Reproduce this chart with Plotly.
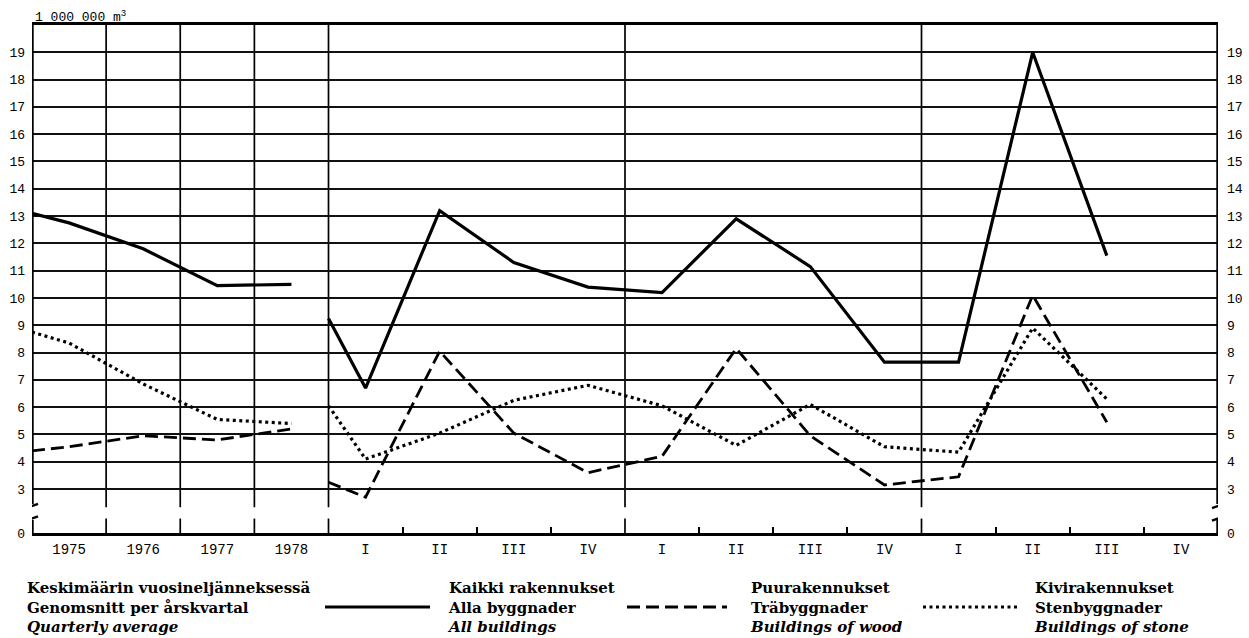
import plotly.graph_objects as go

# ---------------- data (1 000 000 m3) ----------------
years = ["1975", "1976", "1977", "1978"]
quarters = ["I", "II", "III", "IV"]
n_quarter_years = 3

# annual section: value where each line starts at the left edge, then yearly quarterly averages
annual_start_all, annual_start_wood, annual_start_stone = 13.1, 4.4, 8.75
annual_all = [12.75, 11.8, 10.45, 10.5]
annual_wood = [4.55, 4.95, 4.8, 5.2]
annual_stone = [8.35, 6.85, 5.55, 5.4]

# quarterly section: start value at section edge, then quarters I..IV, I..IV, I..III
quarter_start_all, quarter_start_wood, quarter_start_stone = 9.25, 3.25, 6.05
quarterly_all = [6.7, 13.2, 11.3, 10.4, 10.2, 12.9, 11.15, 7.65, 7.65, 19.0, 11.55]
quarterly_wood = [2.7, 8.05, 5.05, 3.6, 4.2, 8.15, 4.95, 3.15, 3.45, 10.1, 5.45]
quarterly_stone = [4.1, 5.05, 6.25, 6.8, 6.05, 4.6, 6.1, 4.55, 4.35, 8.9, 6.3]

y_ticks = list(range(3, 20))
y_top = 20
zero_pos = 1.39          # where "0" sits below the axis break
break_top, break_bottom = 2.33, 1.92

unit_label = "1 000 000 m<sup>3</sup>"
legend_head = ["Keskimäärin vuosineljänneksessä", "Genomsnitt per årskvartal", "Quarterly average"]
legend_all = ["Kaikki rakennukset", "Alla byggnader", "All buildings"]
legend_wood = ["Puurakennukset", "Träbyggnader", "Buildings of wood"]
legend_stone = ["Kivirakennukset", "Stenbyggnader", "Buildings of stone"]

# ---------------- layout geometry ----------------
W, H = 1249, 638
ML, MR, MT, MB = 32, 31, 25, 105
PW, PH = W - ML - MR, H - MT - MB


def px_x(px):
    return (px - ML) / PW


def px_y(py):
    return (H - MB - py) / PH


categories = years + quarters * n_quarter_years
n_cat = len(categories)
centers = [i + 0.5 for i in range(n_cat)]
n_years = len(years)

annual_x = [0] + centers[:n_years]
quarter_x = [n_years] + centers[n_years:n_years + len(quarterly_all)]

solid = dict(color="black", width=3.2)
dashed = dict(color="black", width=2.8, dash="13px,6px")
dotted = dict(color="black", width=3.2, dash="3px,3.5px")

fig = go.Figure()
for xs, ys, ln in [
    (annual_x, [annual_start_all] + annual_all, solid),
    (annual_x, [annual_start_wood] + annual_wood, dashed),
    (annual_x, [annual_start_stone] + annual_stone, dotted),
    (quarter_x, [quarter_start_all] + quarterly_all, solid),
    (quarter_x, [quarter_start_wood] + quarterly_wood, dashed),
    (quarter_x, [quarter_start_stone] + quarterly_stone, dotted),
]:
    fig.add_trace(go.Scatter(x=xs, y=ys, mode="lines", line=ln, showlegend=False,
                             hoverinfo="skip"))

# invisible trace to carry the right-hand axis
fig.add_trace(go.Scatter(x=[0.5], y=[y_ticks[0]], yaxis="y2", mode="markers",
                         marker=dict(opacity=0), showlegend=False, hoverinfo="skip"))

tick_font = dict(family="Liberation Mono", size=14, color="black")
ytick_font = dict(family="Liberation Mono", size=13, color="black")

shapes = []
# vertical dividers (annual columns and year sections), broken at the axis break
dividers = list(range(1, n_years + 1)) + [n_years + 4 * k for k in range(1, n_quarter_years)]
for d in dividers:
    for y0, y1 in [(y_top, break_top), (break_bottom, zero_pos)]:
        shapes.append(dict(type="line", xref="x", yref="y", x0=d, x1=d, y0=y0, y1=y1,
                           line=dict(color="black", width=1.7), layer="below"))
# left and right axis lines with break marks
for ax in [0, n_cat]:
    for y0, y1 in [(y_top, break_top + 0.12), (break_bottom - 0.05, zero_pos)]:
        shapes.append(dict(type="line", xref="x", yref="y", x0=ax, x1=ax, y0=y0, y1=y1,
                           line=dict(color="black", width=3.4)))
    for yc in [break_top + 0.05, break_bottom]:
        shapes.append(dict(type="line", xref="x", yref="y", xsizemode="pixel", xanchor=ax,
                           x0=-6, x1=6, y0=yc - 0.08, y1=yc + 0.08,
                           line=dict(color="black", width=2.4)))

# legend keys
legend_y = px_y(607)
for (x0p, x1p), ln in [((325, 430), solid), ((627, 727), dashed), ((923, 1018), dotted)]:
    shapes.append(dict(type="line", xref="paper", yref="paper", x0=px_x(x0p), x1=px_x(x1p),
                       y0=legend_y, y1=legend_y, line=ln))

annotations = [dict(text=unit_label, xref="paper", yref="paper", x=px_x(33), y=px_y(16),
                    xanchor="left", yanchor="middle", showarrow=False,
                    font=dict(family="Liberation Mono", size=13, color="black"))]
leg_font = dict(family="DejaVu Serif", size=15, color="black")
for col_x, lines in [(25, legend_head), (445, legend_all), (748, legend_wood), (1032, legend_stone)]:
    t = "<b>" + lines[0] + "</b><br><b>" + lines[1] + "</b><br><b><i>" + lines[2] + "</i></b>"
    annotations.append(dict(text=t, xref="paper", yref="paper", x=px_x(col_x), y=px_y(607),
                            xanchor="left", yanchor="middle", align="left", showarrow=False,
                            font=leg_font))

minor_ticks = [c for c in range(n_years + 1, n_cat) if c not in dividers]

fig.update_layout(
    width=W, height=H, margin=dict(l=ML, r=MR, t=MT, b=MB, autoexpand=False),
    paper_bgcolor="white", plot_bgcolor="white",
    xaxis=dict(range=[0, n_cat], tickmode="array", tickvals=centers, ticktext=categories,
               ticks="", showgrid=False, zeroline=False, showline=True, mirror=True,
               linecolor="black", linewidth=2.6, tickfont=tick_font, automargin=False,
               ticklabelstandoff=1,
               minor=dict(tickmode="array", tickvals=minor_ticks, ticks="inside", ticklen=6,
                          tickwidth=1.6, tickcolor="black", showgrid=False)),
    yaxis=dict(range=[zero_pos, y_top], tickmode="array", tickvals=[zero_pos] + y_ticks,
               ticktext=["0"] + [str(v) for v in y_ticks], showgrid=True, gridcolor="#111",
               gridwidth=1.5, zeroline=False, showline=False, ticks="", tickfont=ytick_font,
               ticklabelstandoff=6, automargin=False),
    yaxis2=dict(range=[zero_pos, y_top], overlaying="y", side="right", tickmode="array",
                tickvals=[zero_pos] + y_ticks, ticktext=["0"] + [str(v) for v in y_ticks],
                showgrid=False, zeroline=False, showline=False, ticks="", tickfont=ytick_font,
                ticklabelstandoff=8, automargin=False),
    shapes=shapes, annotations=annotations,
)

fig.write_html("out.html", config={"displayModeBar": False},
               post_script="document.body.style.margin='0';document.body.style.padding='0';")
